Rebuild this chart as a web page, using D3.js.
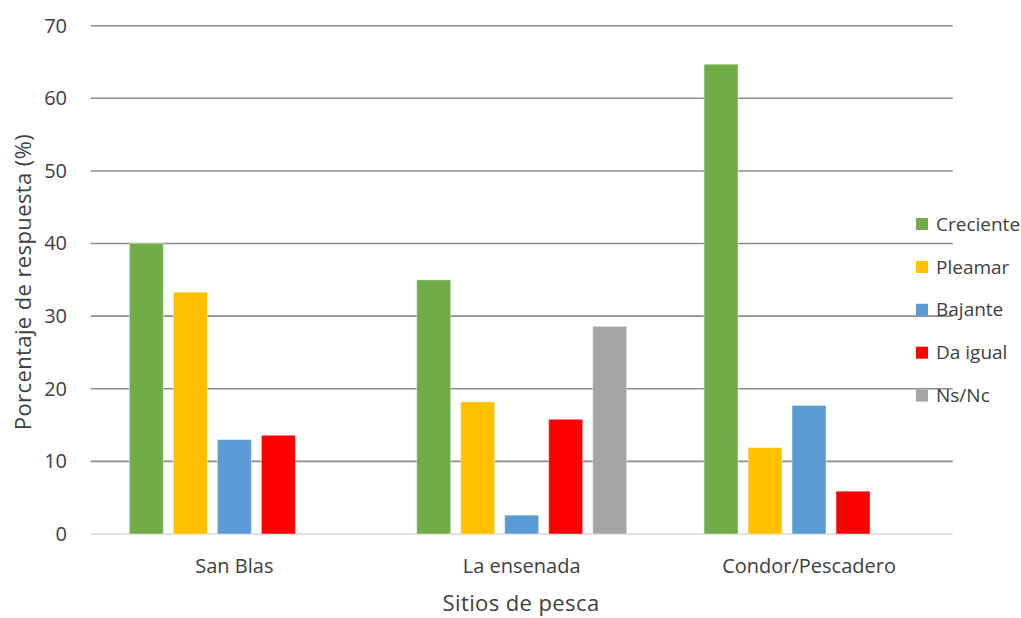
<!DOCTYPE html>
<html>
<head>
<meta charset="utf-8">
<script src="https://cdn.jsdelivr.net/npm/d3@7"></script>
<style>
  html, body { margin: 0; padding: 0; background: #fff; }
  svg text { font-family: "Open Sans", "DejaVu Sans", sans-serif; fill: #404040; }
</style>
</head>
<body>
<svg id="chart" width="1021" height="618"></svg>
<script>
// Sitios de pesca y respuestas sobre el momento de marea (%)
const categories = ["San Blas", "La ensenada", "Condor/Pescadero"];
const seriesNames = ["Creciente", "Pleamar", "Bajante", "Da igual", "Ns/Nc"];
const creciente = [40.0, 35.0, 64.7];
const pleamar   = [33.3, 18.2, 11.9];
const bajante   = [13.0, 2.6, 17.7];
const daIgual   = [13.6, 15.8, 5.9];
const nsNc      = [0, 28.6, 0];
const yTicks = [0, 10, 20, 30, 40, 50, 60, 70];
const colors = ["#70AD47", "#FFC000", "#5B9BD5", "#FF0000", "#A5A5A5"];

const seriesValues = [creciente, pleamar, bajante, daIgual, nsNc];
const rows = categories.map((c, i) => ({
  category: c,
  values: seriesNames.map((s, j) => ({ series: s, value: seriesValues[j][i] }))
}));

const svg = d3.select("#chart");
const plot = { left: 90.7, right: 952.7, top: 25.7, bottom: 534 };

const y = d3.scaleLinear().domain([0, 70]).range([plot.bottom, plot.top]);
const x0 = d3.scaleBand().domain(categories).range([plot.left, plot.right]);
const groupWidth = 210;
const x1 = d3.scaleBand().domain(seriesNames)
  .range([0, groupWidth]).paddingInner(10 / 44).paddingOuter(0);
const color = d3.scaleOrdinal().domain(seriesNames).range(colors);

// Horizontal gridlines
svg.append("g")
  .selectAll("line")
  .data(yTicks.filter(d => d > 0))
  .join("line")
  .attr("x1", plot.left).attr("x2", plot.right)
  .attr("y1", d => y(d)).attr("y2", d => y(d))
  .attr("stroke", "#8c8c8c").attr("stroke-width", 1.6);

// Baseline
svg.append("line")
  .attr("x1", plot.left).attr("x2", plot.right)
  .attr("y1", y(0)).attr("y2", y(0))
  .attr("stroke", "#d9d9d9").attr("stroke-width", 1.6);

// Y axis labels
const yAxis = d3.axisLeft(y).tickValues(yTicks).tickSize(0).tickPadding(0);
const yG = svg.append("g").attr("transform", `translate(${67},0)`).call(yAxis);
yG.select(".domain").remove();
yG.selectAll("text")
  .style("font-family", '"Open Sans", "DejaVu Sans", sans-serif')
  .style("font-size", "20px").attr("fill", "#404040");

// Bars
const groups = svg.append("g")
  .selectAll("g")
  .data(rows)
  .join("g")
  .attr("transform", d => `translate(${x0(d.category) + (x0.bandwidth() - groupWidth) / 2},0)`);

groups.selectAll("rect")
  .data(d => d.values.filter(v => v.value > 0))
  .join("rect")
  .attr("x", d => x1(d.series))
  .attr("width", x1.bandwidth())
  .attr("y", d => y(d.value))
  .attr("height", d => y(0) - y(d.value))
  .attr("fill", d => color(d.series))
  .attr("stroke", "#ffffff").attr("stroke-opacity", 0.45).attr("stroke-width", 1);

// Category labels
const xAxis = d3.axisBottom(x0).tickSize(0).tickPadding(0);
const xG = svg.append("g").attr("transform", `translate(0,${559})`).call(xAxis);
xG.select(".domain").remove();
xG.selectAll("text")
  .style("font-family", '"Open Sans", "DejaVu Sans", sans-serif')
  .style("font-size", "20px").attr("fill", "#404040");

// Axis titles
svg.append("text")
  .attr("x", 521).attr("y", 611)
  .attr("text-anchor", "middle")
  .style("font-size", "22px")
  .style("letter-spacing", "0.4px")
  .text("Sitios de pesca");

svg.append("text")
  .attr("transform", "translate(31,282) rotate(-90)")
  .attr("text-anchor", "middle")
  .style("font-size", "22px")
  .style("letter-spacing", "0.4px")
  .text("Porcentaje de respuesta (%)");

// Legend
const legend = svg.append("g").attr("transform", "translate(916,224)");
const item = legend.selectAll("g")
  .data(seriesNames)
  .join("g")
  .attr("transform", (d, i) => `translate(0,${i * 42.9})`);
item.append("rect")
  .attr("x", 0).attr("y", -6).attr("width", 12).attr("height", 12)
  .attr("fill", d => color(d));
item.append("text")
  .attr("x", 20).attr("y", 0).attr("dy", "0.35em")
  .style("font-size", "19px")
  .text(d => d);
</script>
</body>
</html>
